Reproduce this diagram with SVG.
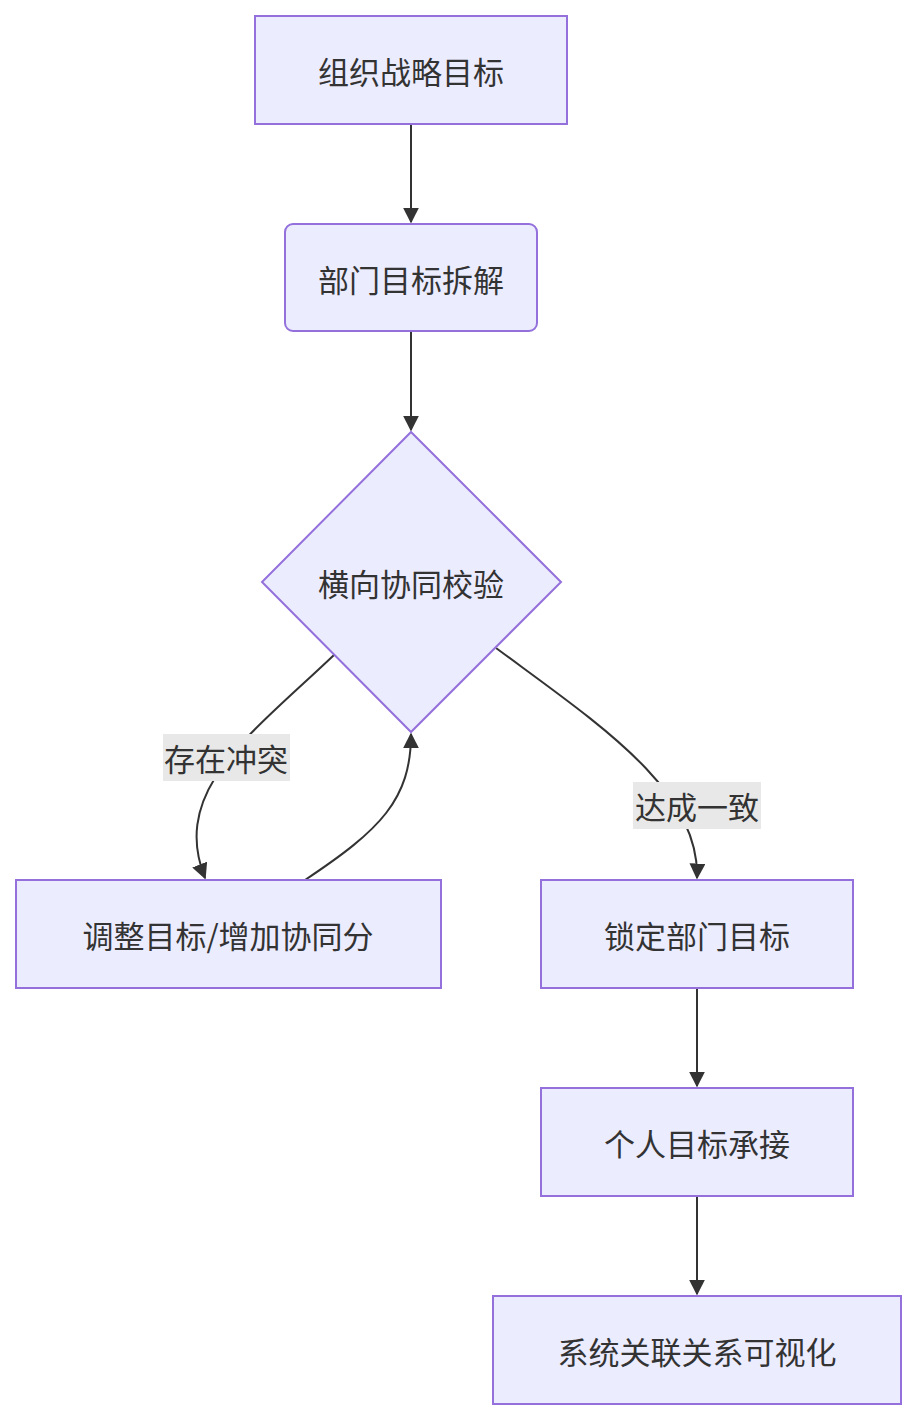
<svg xmlns="http://www.w3.org/2000/svg" width="916" height="1420" viewBox="0 0 916 1420">
<style>
.n{fill:#ECECFF;stroke:#9370DB;stroke-width:2}
.t{font-family:"Noto Sans CJK SC","Liberation Sans",sans-serif;font-size:31px;fill:#333;text-anchor:middle;dominant-baseline:central}
.e{fill:none;stroke:#333;stroke-width:2}
.lb{fill:#e8e8e8}
</style>
<defs><marker id="a" viewBox="0 0 10 10" refX="9" refY="5" markerWidth="8" markerHeight="8" orient="auto"><path d="M0,0L10,5L0,10z" fill="#333"/></marker></defs>
<rect width="916" height="1420" fill="#fff"/>
<g id="edges">
<path class="e" d="M411,124V222" marker-end="url(#a)"/>
<path class="e" d="M411,331V430" marker-end="url(#a)"/>
<path class="e" d="M334,655C250,735 170,790 205,878" marker-end="url(#a)"/>
<path class="e" d="M305,880C380,830 411,800 411,734" marker-end="url(#a)"/>
<path class="e" d="M496,648C600,725 700,790 697,878" marker-end="url(#a)"/>
<path class="e" d="M697,988V1086" marker-end="url(#a)"/>
<path class="e" d="M697,1196V1294" marker-end="url(#a)"/>
<rect class="lb" x="163" y="734" width="127" height="47"/>
<text class="t" x="226" y="757">存在冲突</text>
<rect class="lb" x="633" y="782" width="128" height="47"/>
<text class="t" x="697" y="805">达成一致</text>
</g>
<g id="A"><rect class="n" x="255" y="16" width="312" height="108"/><text class="t" x="411" y="70">组织战略目标</text></g>
<g id="B"><rect class="n" x="285" y="224" width="252" height="107" rx="8"/><text class="t" x="411" y="278">部门目标拆解</text></g>
<g id="C"><polygon class="n" points="411,432 561,582 411,732 262,582"/><text class="t" x="411" y="582">横向协同校验</text></g>
<g id="D"><rect class="n" x="16" y="880" width="425" height="108"/><text class="t" x="228" y="934">调整目标/增加协同分</text></g>
<g id="E"><rect class="n" x="541" y="880" width="312" height="108"/><text class="t" x="697" y="934">锁定部门目标</text></g>
<g id="F"><rect class="n" x="541" y="1088" width="312" height="108"/><text class="t" x="697" y="1142">个人目标承接</text></g>
<g id="G"><rect class="n" x="493" y="1296" width="408" height="108"/><text class="t" x="697" y="1350">系统关联关系可视化</text></g>
</svg>
